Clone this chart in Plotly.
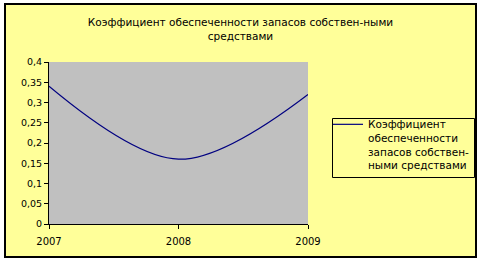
import plotly.graph_objects as go

years = [2007, 2008, 2009]
values = [0.34, 0.16, 0.32]
series_name = "Коэффициент<br>обеспеченности<br>запасов собствен-<br>ными средствами"
title_text = "Коэффициент обеспеченности запасов собствен-ными<br>средствами"
y_ticks = [0, 0.05, 0.1, 0.15, 0.2, 0.25, 0.3, 0.35, 0.4]
y_labels = ["0", "0,05", "0,1", "0,15", "0,2", "0,25", "0,3", "0,35", "0,4"]
x_ticks = [2007, 2008, 2009]
x_labels = ["2007", "2008", "2009"]

W, H = 481, 260
L, R, T, B = 49, 308, 62, 224  # plot area pixels

def px_x(p):
    return (p - L) / (R - L)

def px_y(p):
    return (B - p) / (B - T)

FONT = "DejaVu Sans"

fig = go.Figure()
fig.add_trace(go.Scatter(
    x=years, y=values, mode="lines", name=series_name,
    line=dict(color="#000080", width=1.2, shape="spline", smoothing=1.0),
    showlegend=True,
))

shapes = [
    dict(type="rect", xref="paper", yref="paper", layer="below",
         x0=px_x(5), x1=px_x(476), y0=px_y(257), y1=px_y(4),
         fillcolor="#FFFF99", line=dict(color="black", width=2)),
    dict(type="rect", xref="paper", yref="paper", layer="below",
         x0=0, x1=1, y0=0, y1=1,
         fillcolor="#C0C0C0", line=dict(width=0)),
    dict(type="rect", xref="paper", yref="paper", layer="below",
         x0=px_x(332.5), x1=px_x(474.5), y0=px_y(177.5), y1=px_y(118.5),
         fillcolor="#FFFF99", line=dict(color="black", width=1)),
]

fig.update_layout(
    width=W, height=H,
    margin=dict(l=L, r=W - R, t=T, b=H - B, pad=0, autoexpand=False),
    paper_bgcolor="white",
    plot_bgcolor="rgba(0,0,0,0)",
    separators=", ",
    font=dict(family=FONT, size=9.5, color="black"),
    shapes=shapes,
    title=dict(text=title_text, x=0.5, xref="container", xanchor="center",
               y=1 - 26 / H, yref="container", yanchor="middle",
               font=dict(family=FONT, size=10.5, color="black")),
    xaxis=dict(range=[2007, 2009], tickvals=x_ticks, ticktext=x_labels,
               showgrid=False, zeroline=False, showline=True, linecolor="black",
               linewidth=1, ticks="outside", ticklen=4, tickcolor="black",
               ticklabelstandoff=4, tickfont=dict(size=10)),
    yaxis=dict(range=[0, 0.4], tickvals=y_ticks, ticktext=y_labels,
               showgrid=False, zeroline=False, showline=True, linecolor="black",
               linewidth=1, ticks="outside", ticklen=4, tickcolor="black"),
    legend=dict(x=px_x(328), y=px_y(111), xanchor="left", yanchor="top",
                bgcolor="rgba(0,0,0,0)", borderwidth=0,
                font=dict(family=FONT, size=10.5, color="black"),
                valign="top", itemwidth=30),
)

fig.write_html("out.html")
